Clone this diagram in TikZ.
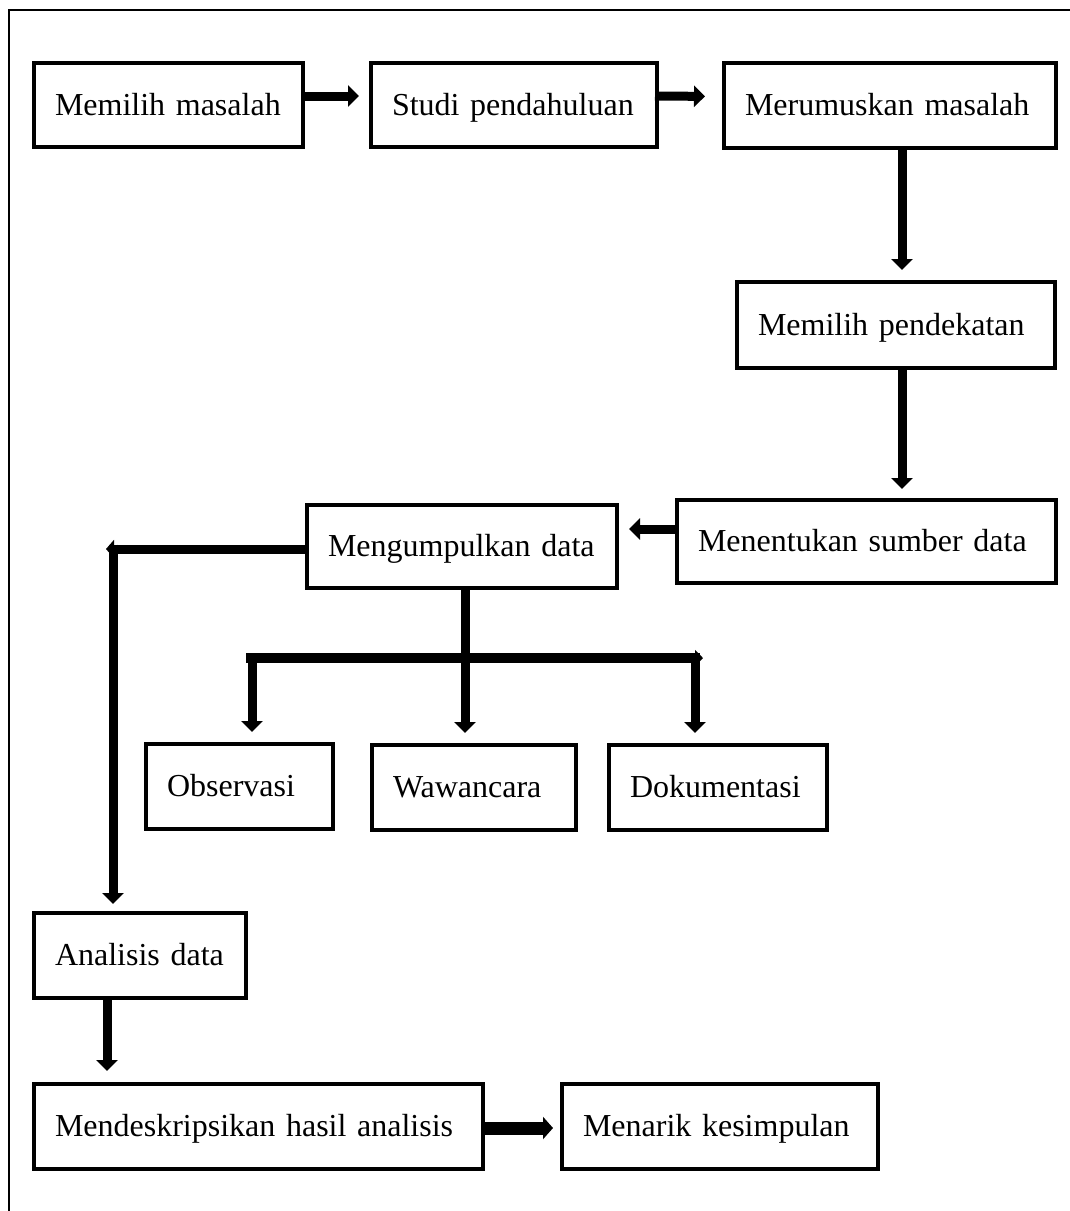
\documentclass[tikz,border=0pt]{standalone}
\usepackage{fontspec}
\setmainfont{Liberation Serif}
\usetikzlibrary{arrows.meta}
\tikzset{
  box/.style={draw, line width=4pt, inner xsep=21pt, inner ysep=0pt, align=left,
    text height=22pt, text depth=2pt, font=\fontsize{32}{38}\selectfont},
  arr/.style={line width=9pt, -{Triangle[width=21pt,length=11pt]}},
  smallarr/.style={line width=9pt, -{Triangle[width=18pt,length=8pt]}},
  frame/.style={line width=2pt}
}
\begin{document}
\begin{tikzpicture}[x=1pt,y=-1pt]
\useasboundingbox (0,0) rectangle (1070,1211);
\draw[frame] (9,1211) -- (9,10) -- (1070,10);

\node[box, text width=227pt, minimum width=269pt, minimum height=84pt] (b1) at (168.5,105) {Memilih masalah};
\node[box, text width=244pt, minimum width=286pt, minimum height=84pt] (b2) at (514,105) {Studi pendahuluan};
\node[box, text width=290pt, minimum width=332pt, minimum height=85pt] (b3) at (890,105.5) {Merumuskan masalah};
\node[box, text width=276pt, minimum width=318pt, minimum height=86pt] (b4) at (896,325) {Memilih pendekatan};
\node[box, text width=337pt, minimum width=379pt, minimum height=83pt] (b5) at (866.5,541.5) {Menentukan sumber data};
\node[box, text width=268pt, minimum width=310pt, minimum height=83pt] (b6) at (462,546.5) {Mengumpulkan data};
\node[box, text width=145pt, minimum width=187pt, minimum height=85pt] (obs) at (239.5,786.5) {Observasi};
\node[box, text width=162pt, minimum width=204pt, minimum height=85pt] (waw) at (474,787.5) {Wawancara};
\node[box, text width=176pt, minimum width=218pt, minimum height=85pt] (dok) at (718,787.5) {Dokumentasi};
\node[box, text width=170pt, minimum width=212pt, minimum height=85pt] (ana) at (140,955.5) {Analisis data};
\node[box, text width=407pt, minimum width=449pt, minimum height=85pt] (mend) at (258.5,1126.5) {Mendeskripsikan hasil analisis};
\node[box, text width=274pt, minimum width=316pt, minimum height=85pt] (men) at (720,1126.5) {Menarik kesimpulan};

% top row
\draw[arr, shorten >=10pt] ([yshift=9pt]b1.east) -- ([yshift=9pt]b2.west);
\draw[arr, shorten >=17pt] ([xshift=-4pt,yshift=9pt]b2.east) -- ([yshift=9pt]b3.west);
% right column
\coordinate (x902) at (902,0);
\draw[arr, shorten >=10pt] (b3.south -| x902) -- (b4.north -| x902);
\draw[arr, shorten >=9pt] (b4.south -| x902) -- (b5.north -| x902);
% to Mengumpulkan data
\coordinate (a5s) at ([yshift=12.5pt]b5.west);
\draw[arr, shorten >=10pt] (a5s) -- (b6.east |- a5s);
% left loop to Analisis data
\coordinate (cL) at (106,549);
\coordinate (cV) at (113,544.5);
\draw[smallarr] (b6.west |- cL) -- (cL);
\draw[arr, shorten >=7pt, line cap=butt] (cV) -- (ana.north -| cV);
% branch to the three methods
\coordinate (x465) at (465,0);
\coordinate (barL) at (246,658);
\coordinate (barR) at (703,658);
\coordinate (xo) at (252,653);
\coordinate (xd) at (695,653);
\draw[arr, shorten >=10pt] (b6.south -| x465) -- (waw.north -| x465);
\draw[line width=10pt, -{Triangle[width=16pt,length=8pt]}] (barL) -- (barR);
\draw[arr, shorten >=10pt] (xo) -- (obs.north -| xo);
\draw[arr, shorten >=10pt] (xd) -- (dok.north -| xd);
% bottom
\coordinate (x107) at ([xshift=-33pt]ana.south);
\draw[arr, shorten >=11pt] (x107) -- (mend.north -| x107);
\coordinate (y1128) at ([yshift=-1.5pt]mend.east);
\draw[line width=13pt, -{Triangle[width=22pt,length=10pt]}, shorten >=7pt] (y1128) -- (men.west |- y1128);
\end{tikzpicture}
\end{document}
